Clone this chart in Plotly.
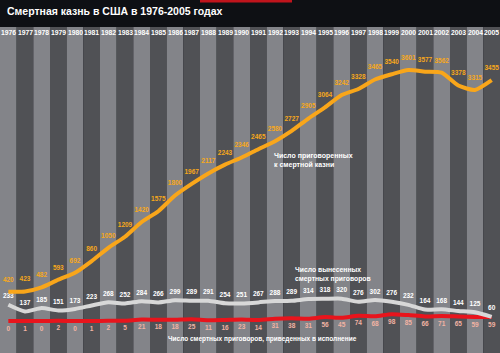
import plotly.graph_objects as go

years = list(range(1976, 2006))
sentenced_total = [420, 423, 482, 593, 692, 860, 1050, 1209, 1420, 1575, 1800, 1967, 2117, 2243, 2346,
                   2465, 2580, 2727, 2905, 3064, 3242, 3328, 3465, 3540, 3601, 3577, 3562, 3378, 3315, 3455]
new_sentences = [233, 137, 185, 151, 173, 223, 268, 252, 284, 266, 299, 289, 291, 254, 251,
                 267, 288, 289, 314, 318, 320, 276, 302, 276, 232, 164, 168, 144, 125, 60]
executions = [0, 1, 0, 2, 0, 1, 2, 5, 21, 18, 18, 25, 11, 16, 23,
              14, 31, 38, 31, 56, 45, 74, 68, 98, 85, 66, 71, 65, 59, 59]

W, H = 500, 353
FONT = "Liberation Sans, Arial, sans-serif"
LIGHT, DARK = "#838489", "#505155"

def py(px):
    return 1 - px / H

fig = go.Figure()

shapes = []
for i, yr in enumerate(years):
    shapes.append(dict(type="rect", xref="x", yref="paper", x0=yr - 0.5, x1=yr + 0.5,
                       y0=0, y1=py(27), fillcolor=LIGHT if i % 2 == 0 else DARK,
                       line=dict(width=0), layer="below"))
shapes.append(dict(type="rect", xref="paper", yref="paper", x0=0, x1=1, y0=py(27), y1=1,
                   fillcolor="#0e1014", line=dict(width=0), layer="below"))
shapes.append(dict(type="rect", xref="paper", yref="paper", x0=200 / W, x1=292 / W, y0=py(2.5), y1=1,
                   fillcolor="#c0141c", line=dict(width=0), layer="below"))

fig.add_trace(go.Scatter(x=years, y=executions, mode="lines+markers+text",
                         text=["<b>%d</b>" % v for v in executions],
                         textposition="bottom center",
                         marker=dict(size=6, opacity=0),
                         textfont=dict(family=FONT, size=6.5, color="#f2b3a3"),
                         line=dict(color="#e8141c", width=4, shape="spline", smoothing=0.6)))
fig.add_trace(go.Scatter(x=years, y=new_sentences, mode="lines+markers+text",
                         text=["<b>%d</b>" % v for v in new_sentences],
                         textposition="top center",
                         marker=dict(size=6, opacity=0),
                         textfont=dict(family=FONT, size=6.5, color="#ffffff"),
                         line=dict(color="#d8d8d8", width=4, shape="spline", smoothing=0.6)))
fig.add_trace(go.Scatter(x=years, y=sentenced_total, mode="lines+markers+text",
                         text=["<b>%d</b>" % v for v in sentenced_total],
                         textposition="top center",
                         marker=dict(size=12, opacity=0),
                         textfont=dict(family=FONT, size=6.5, color="#f7a81b"),
                         line=dict(color="#f9a61a", width=4, shape="spline", smoothing=0.6)))

annotations = []
for yr in years:
    annotations.append(dict(x=yr, y=py(32), xref="x", yref="paper", text="<b>%d</b>" % yr,
                            showarrow=False, font=dict(family=FONT, size=6.8, color="#ffffff"),
                            xanchor="center", yanchor="middle"))
annotations.append(dict(x=5 / W, y=py(11), xref="paper", yref="paper",
                        text="<b>Смертная казнь в США в 1976-2005 годах</b>", showarrow=False,
                        font=dict(family=FONT, size=10.5, color="#ffffff"), xanchor="left", yanchor="middle"))
annotations.append(dict(x=272 / W, y=py(160), xref="paper", yref="paper",
                        text="<b>Число приговоренных<br>к смертной казни</b>", showarrow=False, align="left",
                        font=dict(family=FONT, size=7, color="#ffffff"), xanchor="left", yanchor="middle"))
annotations.append(dict(x=293 / W, y=py(274), xref="paper", yref="paper",
                        text="<b>Число вынесенных<br>смертных приговоров</b>", showarrow=False, align="left",
                        font=dict(family=FONT, size=6.8, color="#ffffff"), xanchor="left", yanchor="middle"))
annotations.append(dict(x=166 / W, y=py(339), xref="paper", yref="paper",
                        text="<b>Число смертных приговоров, приведенных в исполнение</b>", showarrow=False,
                        font=dict(family=FONT, size=6.5, color="#ffffff"), xanchor="left", yanchor="middle"))

k = 251 / 3601
fig.update_layout(
    width=W, height=H, margin=dict(l=0, r=0, t=0, b=0),
    paper_bgcolor="#0e1014", plot_bgcolor="rgba(0,0,0,0)",
    showlegend=False, shapes=shapes, annotations=annotations,
    xaxis=dict(range=[1975.5, 2005.5], visible=False, fixedrange=True),
    yaxis=dict(range=[-(H - 321) / k, 321 / k], visible=False, fixedrange=True),
)
fig.write_html("out.html")
